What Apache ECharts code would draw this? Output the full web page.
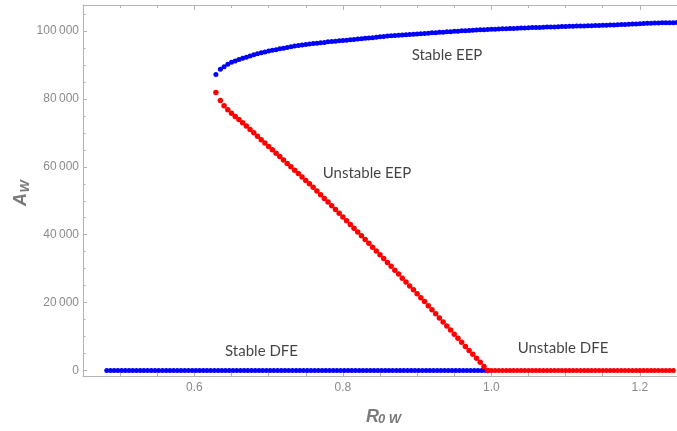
<!DOCTYPE html>
<html>
<head>
<meta charset="utf-8">
<script src="https://cdn.jsdelivr.net/npm/echarts@6/dist/echarts.min.js"></script>
<style>
  html, body { margin: 0; padding: 0; background: #ffffff; }
  #chart { width: 677px; height: 431px; }
</style>
</head>
<body>
<div id="chart"></div>
<script>
// Equilibrium branches of A_W against R_0W (saddle-node / transcritical bifurcation)

// Upper endemic branch: [R0W, A_W]
const stableEEP = [
  [0.629,87200],[0.635,88700],[0.640,89500],[0.645,90200],[0.650,90800],[0.655,91200],[0.660,91600],[0.665,91950],[0.670,92300],[0.675,92650],
  [0.680,93000],[0.685,93300],[0.690,93600],[0.695,93850],[0.700,94100],[0.705,94300],[0.710,94500],[0.715,94750],[0.720,94950],[0.725,95150],
  [0.730,95350],[0.735,95550],[0.740,95700],[0.745,95850],[0.750,96000],[0.755,96150],[0.760,96300],[0.765,96400],[0.770,96550],[0.775,96650],
  [0.780,96800],[0.785,96900],[0.790,97000],[0.795,97100],[0.800,97200],[0.805,97300],[0.810,97400],[0.815,97500],[0.820,97650],[0.825,97750],
  [0.830,97850],[0.835,97950],[0.840,98050],[0.845,98150],[0.850,98300],[0.855,98400],[0.860,98500],[0.865,98600],[0.870,98700],[0.875,98750],
  [0.880,98850],[0.885,98900],[0.890,98950],[0.895,99050],[0.900,99100],[0.905,99200],[0.910,99250],[0.915,99350],[0.920,99450],[0.925,99500],
  [0.930,99600],[0.935,99650],[0.940,99750],[0.945,99800],[0.950,99900],[0.955,99950],[0.960,100050],[0.965,100100],[0.970,100150],[0.975,100200],
  [0.980,100300],[0.985,100350],[0.990,100400],[0.995,100450],[1.000,100500],[1.005,100550],[1.010,100600],[1.015,100650],[1.020,100700],[1.025,100750],
  [1.030,100750],[1.035,100800],[1.040,100850],[1.045,100900],[1.050,100950],[1.055,101000],[1.060,101000],[1.065,101050],[1.070,101100],[1.075,101150],
  [1.080,101200],[1.085,101200],[1.090,101250],[1.095,101300],[1.100,101350],[1.105,101400],[1.110,101400],[1.115,101450],[1.120,101500],[1.125,101500],
  [1.130,101550],[1.135,101550],[1.140,101600],[1.145,101650],[1.150,101700],[1.155,101700],[1.160,101750],[1.165,101800],[1.170,101850],[1.175,101900],
  [1.180,101950],[1.185,102000],[1.190,102050],[1.195,102100],[1.200,102150],[1.205,102200],[1.210,102250],[1.215,102300],[1.220,102350],[1.225,102350],
  [1.230,102400],[1.235,102400],[1.240,102450],[1.245,102450],[1.250,102500]
];

// Lower endemic branch: [R0W, A_W]
const unstableEEP = [
  [0.629,81900],[0.635,79500],[0.640,78000],[0.645,76800],[0.650,75800],[0.655,74800],[0.660,73900],[0.665,73000],[0.670,72000],[0.675,71000],
  [0.680,70000],[0.685,69000],[0.690,68000],[0.695,67000],[0.700,66000],[0.705,65000],[0.710,64000],[0.715,63000],[0.720,62000],[0.725,61000],
  [0.730,60000],[0.735,59000],[0.740,58000],[0.745,57000],[0.750,56000],[0.755,55000],[0.760,54000],[0.765,52900],[0.770,51800],[0.775,50700],
  [0.780,49600],[0.785,48500],[0.790,47400],[0.795,46300],[0.800,45200],[0.805,44100],[0.810,43000],[0.815,41900],[0.820,40800],[0.825,39700],
  [0.830,38600],[0.835,37500],[0.840,36300],[0.845,35200],[0.850,34100],[0.855,33000],[0.860,31800],[0.865,30700],[0.870,29500],[0.875,28400],
  [0.880,27200],[0.885,26100],[0.890,24900],[0.895,23800],[0.900,22600],[0.905,21400],[0.910,20300],[0.915,19100],[0.920,17900],[0.925,16700],
  [0.930,15500],[0.935,14300],[0.940,13100],[0.945,11900],[0.950,10700],[0.955,9500],[0.960,8300],[0.965,7100],[0.970,5900],[0.975,4800],
  [0.980,3600],[0.985,2400],[0.990,1200],[0.995,0]
];

// Disease-free branch (A_W = 0): sampled R0W values
const stableDfeR = [
  0.482,0.487,0.492,0.497,0.502,0.507,0.512,0.517,0.522,0.527,
  0.532,0.537,0.542,0.547,0.552,0.557,0.562,0.567,0.572,0.577,
  0.582,0.587,0.592,0.597,0.602,0.607,0.612,0.617,0.622,0.627,
  0.632,0.637,0.642,0.647,0.652,0.657,0.662,0.667,0.672,0.677,
  0.682,0.687,0.692,0.697,0.702,0.707,0.712,0.717,0.722,0.727,
  0.732,0.737,0.742,0.747,0.752,0.757,0.762,0.767,0.772,0.777,
  0.782,0.787,0.792,0.797,0.802,0.807,0.812,0.817,0.822,0.827,
  0.832,0.837,0.842,0.847,0.852,0.857,0.862,0.867,0.872,0.877,
  0.882,0.887,0.892,0.897,0.902,0.907,0.912,0.917,0.922,0.927,
  0.932,0.937,0.942,0.947,0.952,0.957,0.962,0.967,0.972,0.977,
  0.982,0.987,0.992
];
const unstableDfeR = [
  0.995,1.000,1.005,1.010,1.015,1.020,1.025,1.030,1.035,1.040,
  1.045,1.050,1.055,1.060,1.065,1.070,1.075,1.080,1.085,1.090,
  1.095,1.100,1.105,1.110,1.115,1.120,1.125,1.130,1.135,1.140,
  1.145,1.150,1.155,1.160,1.165,1.170,1.175,1.180,1.185,1.190,
  1.195,1.200,1.205,1.210,1.215,1.220,1.225,1.230,1.235,1.240,
  1.245
];
const dfeLevel = 0;

// Axis ticks
const xMajorTicks = [0.6, 0.8, 1.0, 1.2];
const xMinorTicks = [0.45, 0.5, 0.55, 0.65, 0.7, 0.75, 0.85, 0.9, 0.95, 1.05, 1.1, 1.15, 1.25];
const yMajorTicks = [0, 20000, 40000, 60000, 80000, 100000];
const yMinorTicks = [5000, 10000, 15000, 25000, 30000, 35000, 45000, 50000, 55000,
                     65000, 70000, 75000, 85000, 90000, 95000, 105000];

const branchLabels = ['Stable EEP', 'Unstable EEP', 'Stable DFE', 'Unstable DFE'];

const BLUE = '#0000ff';
const RED = '#ff0000';
const FRAME = '#b4b4b4';
const TICK_TEXT = '#8a8a8a';
const TITLE = '#7a7a7a';

const X_MIN = 0.45, X_MAX = 1.25;
const Y_MIN = -1620, Y_MAX = 107660;

function thinThousands(v) {
  const s = String(Math.round(v));
  return s.replace(/\B(?=(\d{3})+(?!\d))/g, '\u2009');
}

function xAxisDef(pos, ticks, len, withLine, withLabels) {
  return {
    type: 'value', min: X_MIN, max: X_MAX, position: pos,
    axisLine: { show: withLine, onZero: false, lineStyle: { color: FRAME, width: 1 } },
    axisTick: { show: true, inside: true, length: len, customValues: ticks,
                lineStyle: { color: FRAME, width: 1 } },
    axisLabel: withLabels
      ? { show: true, customValues: ticks, formatter: v => v.toFixed(1),
          color: TICK_TEXT, fontSize: 12, fontFamily: 'Liberation Sans', margin: 6 }
      : { show: false },
    splitLine: { show: false }
  };
}
function yAxisDef(pos, ticks, len, withLine, withLabels) {
  return {
    type: 'value', min: Y_MIN, max: Y_MAX, position: pos,
    axisLine: { show: withLine, onZero: false, lineStyle: { color: FRAME, width: 1 } },
    axisTick: { show: true, inside: true, length: len, customValues: ticks,
                lineStyle: { color: FRAME, width: 1 } },
    axisLabel: withLabels
      ? { show: true, customValues: ticks, formatter: thinThousands,
          color: TICK_TEXT, fontSize: 12, fontFamily: 'Liberation Sans', margin: 4 }
      : { show: false },
    splitLine: { show: false }
  };
}

function dots(name, data, color, size) {
  return {
    name, type: 'scatter', xAxisIndex: 0, yAxisIndex: 0,
    data, symbol: 'circle', symbolSize: size,
    itemStyle: { color, opacity: 1 },
    silent: true
  };
}

const chart = echarts.init(document.getElementById('chart'), null, { renderer: 'canvas' });

const option = {
  animation: false,
  backgroundColor: '#ffffff',
  grid: { left: 83, top: 5, width: 594, height: 371, containLabel: false },
  xAxis: [
    xAxisDef('bottom', xMajorTicks, 5, true, true),
    xAxisDef('bottom', xMinorTicks, 3, false, false),
    xAxisDef('top', xMajorTicks, 5, true, false),
    xAxisDef('top', xMinorTicks, 3, false, false)
  ],
  yAxis: [
    yAxisDef('left', yMajorTicks, 4, true, true),
    yAxisDef('left', yMinorTicks, 2.5, false, false)
  ],
  series: [
    dots('Stable DFE', stableDfeR.map(r => [r, dfeLevel]), BLUE, 5),
    dots('Stable EEP', stableEEP, BLUE, 5),
    dots('Unstable EEP', unstableEEP, RED, 5.5),
    dots('Unstable DFE', unstableDfeR.map(r => [r, dfeLevel]), RED, 5),
    {
      name: 'branch labels', type: 'scatter', xAxisIndex: 0, yAxisIndex: 0,
      symbolSize: 0, silent: true,
      data: [
        { name: branchLabels[0], value: [0.9402, 93000] },
        { name: branchLabels[1], value: [0.8325, 58100] },
        { name: branchLabels[2], value: [0.6904, 5750] },
        { name: branchLabels[3], value: [1.0965, 6640] }
      ],
      label: {
        show: true, position: 'inside', formatter: '{b}',
        color: '#141414', fontSize: 15, fontFamily: 'Lato'
      }
    }
  ],
  graphic: [
    // horizontal axis title R_0W
    { type: 'text', x: 366, y: 417, silent: true,
      style: { text: 'R', fill: TITLE, font: 'italic bold 18px "Liberation Sans"',
               textAlign: 'left', textVerticalAlign: 'middle' } },
    { type: 'text', x: 378, y: 419.5, silent: true,
      style: { text: '0 W', fill: TITLE, font: 'italic bold 13px "Liberation Sans"',
               textAlign: 'left', textVerticalAlign: 'middle' } },
    // vertical axis title A_W
    { type: 'group', x: 27, y: 206, rotation: Math.PI / 2, silent: true,
      children: [
        { type: 'text', x: 0, y: -6.3,
          style: { text: 'A', fill: TITLE, font: 'italic bold 18px "Liberation Sans"',
                   textAlign: 'left', textVerticalAlign: 'middle' } },
        { type: 'text', x: 13.5, y: -1.5,
          style: { text: 'W', fill: TITLE, font: 'italic bold 13px "Liberation Sans"',
                   textAlign: 'left', textVerticalAlign: 'middle' } }
      ] }
  ]
};

chart.setOption(option);
</script>
</body>
</html>
